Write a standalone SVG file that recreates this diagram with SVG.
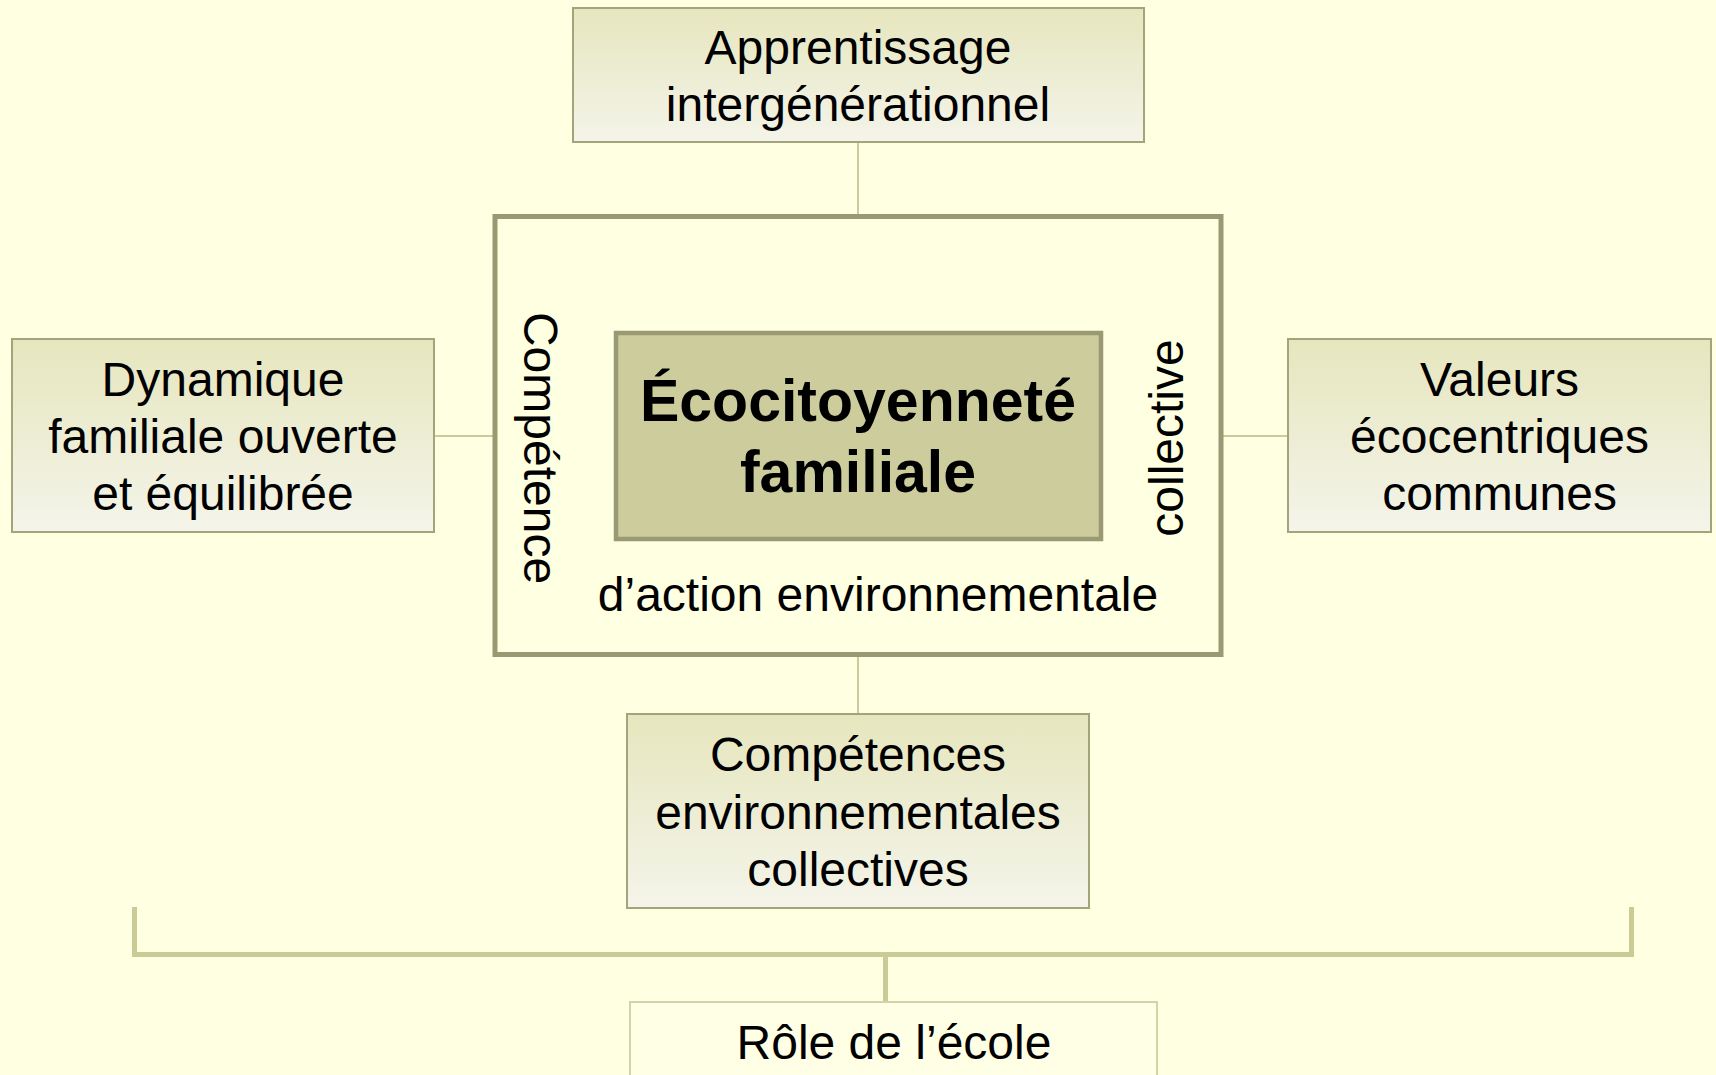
<svg xmlns="http://www.w3.org/2000/svg" width="1716" height="1075" viewBox="0 0 1716 1075">
  <style>
    .t { font-family: "Liberation Sans", Arial, sans-serif; font-size: 48px; fill: #000; text-anchor: middle; }
    .b { font-weight: bold; font-size: 59px; }
    .node { fill: url(#g); stroke: #A3A37C; stroke-width: 2; }
    .conn { stroke: #CBCB9B; stroke-width: 2; fill: none; }
    .bracket { stroke: #CBCB96; stroke-width: 5; fill: none; }
  </style>
  <defs>
    <linearGradient id="g" x1="0" y1="0" x2="0" y2="1">
      <stop offset="0" stop-color="#E6E6BE"/>
      <stop offset="1" stop-color="#F4F4EA"/>
    </linearGradient>
  </defs>
  <rect x="0" y="0" width="1716" height="1075" fill="#FFFFE1"/>

  <g id="connectors">
    <line class="conn" x1="858" y1="142" x2="858" y2="214"/>
    <line class="conn" x1="434" y1="436" x2="493" y2="436"/>
    <line class="conn" x1="1223" y1="436" x2="1288" y2="436"/>
    <line class="conn" x1="858" y1="656" x2="858" y2="714"/>
    <path class="bracket" d="M134.5 907 V954.5 H1631.5 V907"/>
    <line class="bracket" x1="885.5" y1="954" x2="885.5" y2="1002"/>
  </g>

  <g id="outer">
    <rect x="495" y="216.5" width="726" height="438" fill="none" stroke="#999973" stroke-width="5"/>
    <text class="t" transform="translate(524,448) rotate(90)">Compétence</text>
    <text class="t" transform="translate(1183,438) rotate(-90)">collective</text>
    <text class="t" x="878" y="611">d’action environnementale</text>
  </g>

  <g id="center">
    <rect x="616" y="333" width="485" height="206" fill="#CCCC9C" stroke="#999973" stroke-width="4.5"/>
    <text class="t b" x="858" y="421">Écocitoyenneté</text>
    <text class="t b" x="858" y="492">familiale</text>
  </g>

  <g id="top">
    <rect class="node" x="573" y="8" width="571" height="134"/>
    <text class="t" x="858" y="64">Apprentissage</text>
    <text class="t" x="858" y="121">intergénérationnel</text>
  </g>

  <g id="left">
    <rect class="node" x="12" y="339" width="422" height="193"/>
    <text class="t" x="223" y="396">Dynamique</text>
    <text class="t" x="223" y="453">familiale ouverte</text>
    <text class="t" x="223" y="510">et équilibrée</text>
  </g>

  <g id="right">
    <rect class="node" x="1288" y="339" width="423" height="193"/>
    <text class="t" x="1499.5" y="396">Valeurs</text>
    <text class="t" x="1499.5" y="453">écocentriques</text>
    <text class="t" x="1499.5" y="510">communes</text>
  </g>

  <g id="bottom">
    <rect class="node" x="627" y="714" width="462" height="194"/>
    <text class="t" x="858" y="771">Compétences</text>
    <text class="t" x="858" y="829">environnementales</text>
    <text class="t" x="858" y="886">collectives</text>
  </g>

  <g id="role">
    <rect x="630" y="1002" width="527" height="100" fill="#FFFFE6" stroke="#D3D3A8" stroke-width="2"/>
    <text class="t" x="894" y="1059">Rôle de l’école</text>
  </g>
</svg>
